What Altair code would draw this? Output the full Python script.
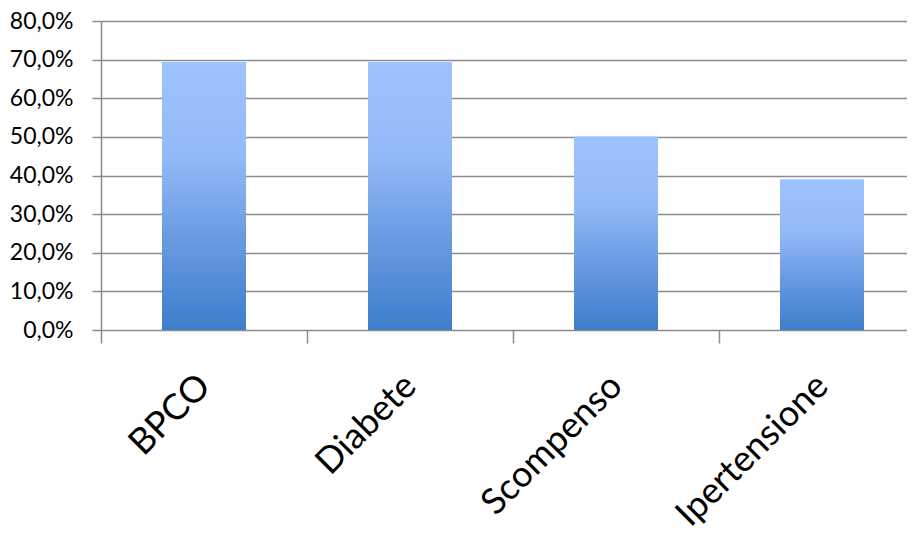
import altair as alt
import pandas as pd

categories = ["BPCO", "Diabete", "Scompenso", "Ipertensione"]
values = [0.694, 0.694, 0.501, 0.390]
y_ticks = [0.0, 0.1, 0.2, 0.3, 0.4, 0.5, 0.6, 0.7, 0.8]

df = pd.DataFrame({"cat": categories, "val": values})

gradient = alt.LinearGradient(
    gradient="linear",
    x1=0, y1=0, x2=0, y2=1,
    stops=[
        alt.GradientStop(color="#9DC3FF", offset=0),
        alt.GradientStop(color="#93BAF8", offset=0.35),
        alt.GradientStop(color="#6A9BE2", offset=0.65),
        alt.GradientStop(color="#3D7ECB", offset=1),
    ],
)

chart = (
    alt.Chart(df)
    .mark_bar(size=84, color=gradient)
    .encode(
        x=alt.X(
            "cat:N",
            sort=categories,
            scale=alt.Scale(paddingInner=0, paddingOuter=0, range=[0, 824]),
            axis=alt.Axis(
                title=None,
                labelAngle=315,
                labelAlign="right",
                labelBaseline="middle",
                labelFont="Lato",
                labelFontSize=36,
                labelColor="#000000",
                labelPadding=37,
                labelLimit=0,
                labelOverlap=False,
                tickSize=13,
                tickBand="extent",
                tickColor="#8c8c8c",
                tickWidth=1.5,
                domain=False,
                grid=False,
            ),
        ),
        y=alt.Y(
            "val:Q",
            scale=alt.Scale(domain=[0, 0.8], nice=False),
            axis=alt.Axis(
                title=None,
                values=y_ticks,
                labelExpr="replace(format(datum.value * 100, '.1f'), '.', ',') + '%'",
                labelFont="Lato",
                labelFontSize=23,
                labelColor="#000000",
                labelPadding=19,
                labelLimit=0,
                tickSize=9,
                tickColor="#8c8c8c",
                tickWidth=1.5,
                domainColor="#8c8c8c",
                domainWidth=1.5,
                gridColor="#8c8c8c",
                gridWidth=1.5,
                gridOpacity=1,
            ),
        ),
    )
    .properties(
        width=806,
        height=309,
        autosize=alt.AutoSizeParams(type="none"),
        padding={"left": 93, "top": 13, "right": 0, "bottom": 196},
    )
    .configure_view(stroke=None)
)

chart.save("out.html", embed_options={"renderer": "svg", "actions": False})
